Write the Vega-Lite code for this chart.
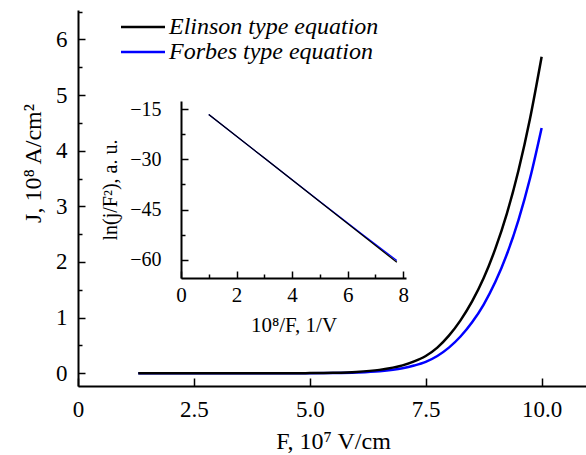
{
  "$schema": "https://vega.github.io/schema/vega-lite/v6.json",
  "width": 510,
  "height": 376,
  "autosize": {"type": "none"},
  "padding": {"left": 78, "top": 10, "right": 0, "bottom": 69},
  "background": "white",
  "config": {
    "view": {"stroke": null},
    "axis": {
      "domainColor": "black",
      "domainWidth": 2,
      "tickColor": "black",
      "tickWidth": 1.5,
      "labelColor": "black",
      "titleColor": "black",
      "labelFont": "Liberation Serif",
      "titleFont": "Liberation Serif",
      "titleFontWeight": "normal",
      "grid": false,
      "labelOverlap": false,
      "labelFlush": false
    },
    "legend": {
      "orient": "none",
      "legendX": 53,
      "legendY": 5,
      "symbolType": "M-4.4,0H4.4",
      "symbolSize": 100,
      "symbolStrokeWidth": 2.5,
      "labelFont": "Liberation Serif",
      "labelFontStyle": "italic",
      "labelFontSize": 24,
      "labelColor": "black",
      "labelOffset": 14,
      "rowPadding": 1,
      "padding": 0,
      "labelLimit": 400
    }
  },
  "datasets": {
    "main": [
      {"series": "Forbes type equation", "F": 1.3, "J": 0},
      {"series": "Forbes type equation", "F": 2, "J": 0},
      {"series": "Forbes type equation", "F": 3, "J": 0},
      {"series": "Forbes type equation", "F": 4, "J": 0.0001},
      {"series": "Forbes type equation", "F": 5, "J": 0.001},
      {"series": "Forbes type equation", "F": 5.5, "J": 0.004},
      {"series": "Forbes type equation", "F": 6, "J": 0.013},
      {"series": "Forbes type equation", "F": 6.5, "J": 0.035},
      {"series": "Forbes type equation", "F": 7, "J": 0.088},
      {"series": "Forbes type equation", "F": 7.25, "J": 0.138},
      {"series": "Forbes type equation", "F": 7.5, "J": 0.205},
      {"series": "Forbes type equation", "F": 7.75, "J": 0.31},
      {"series": "Forbes type equation", "F": 8, "J": 0.46},
      {"series": "Forbes type equation", "F": 8.25, "J": 0.66},
      {"series": "Forbes type equation", "F": 8.5, "J": 0.915},
      {"series": "Forbes type equation", "F": 8.75, "J": 1.235},
      {"series": "Forbes type equation", "F": 9, "J": 1.638},
      {"series": "Forbes type equation", "F": 9.25, "J": 2.138},
      {"series": "Forbes type equation", "F": 9.5, "J": 2.754},
      {"series": "Forbes type equation", "F": 9.75, "J": 3.505},
      {"series": "Forbes type equation", "F": 10, "J": 4.41},
      {"series": "Elinson type equation", "F": 1.3, "J": 0},
      {"series": "Elinson type equation", "F": 2, "J": 0},
      {"series": "Elinson type equation", "F": 3, "J": 0},
      {"series": "Elinson type equation", "F": 4, "J": 0.0001},
      {"series": "Elinson type equation", "F": 4.5, "J": 0.0004},
      {"series": "Elinson type equation", "F": 5, "J": 0.002},
      {"series": "Elinson type equation", "F": 5.5, "J": 0.0075},
      {"series": "Elinson type equation", "F": 6, "J": 0.023},
      {"series": "Elinson type equation", "F": 6.5, "J": 0.06},
      {"series": "Elinson type equation", "F": 7, "J": 0.14},
      {"series": "Elinson type equation", "F": 7.25, "J": 0.212},
      {"series": "Elinson type equation", "F": 7.5, "J": 0.31},
      {"series": "Elinson type equation", "F": 7.75, "J": 0.46},
      {"series": "Elinson type equation", "F": 8, "J": 0.675},
      {"series": "Elinson type equation", "F": 8.25, "J": 0.95},
      {"series": "Elinson type equation", "F": 8.5, "J": 1.29},
      {"series": "Elinson type equation", "F": 8.75, "J": 1.71},
      {"series": "Elinson type equation", "F": 9, "J": 2.235},
      {"series": "Elinson type equation", "F": 9.25, "J": 2.87},
      {"series": "Elinson type equation", "F": 9.5, "J": 3.645},
      {"series": "Elinson type equation", "F": 9.75, "J": 4.58},
      {"series": "Elinson type equation", "F": 10, "J": 5.69}
    ],
    "inset": [
      {"series": "Forbes type equation", "X": 1.0, "L": -16.6},
      {"series": "Forbes type equation", "X": 3.0, "L": -29.63},
      {"series": "Forbes type equation", "X": 5.0, "L": -42.6},
      {"series": "Forbes type equation", "X": 6.5, "L": -52.2},
      {"series": "Forbes type equation", "X": 7.77, "L": -60.2},
      {"series": "Elinson type equation", "X": 1.0, "L": -16.6},
      {"series": "Elinson type equation", "X": 3.0, "L": -29.63},
      {"series": "Elinson type equation", "X": 5.0, "L": -42.66},
      {"series": "Elinson type equation", "X": 6.5, "L": -52.43},
      {"series": "Elinson type equation", "X": 7.77, "L": -60.7}
    ]
  },
  "layer": [
    {
      "data": {"name": "main"},
      "mark": {"type": "line", "strokeWidth": 2.5, "interpolate": "monotone"},
      "encoding": {
        "x": {
          "field": "F",
          "type": "quantitative",
          "scale": {"domain": [0, 11], "nice": false, "zero": false},
          "axis": {
            "orient": "bottom",
            "values": [0, 2.5, 5, 7.5, 10],
            "labelExpr": "datum.value === 0 ? '0' : format(datum.value, '.1f')",
            "tickSize": -8,
            "labelPadding": 20,
            "labelFont": "Liberation Serif",
            "labelFontSize": 23,
            "title": "F, 10⁷ V/cm",
            "titleFont": "Liberation Serif",
            "titleFontSize": 24,
            "titlePadding": 8
          }
        },
        "y": {
          "field": "J",
          "type": "quantitative",
          "scale": {"domain": [-0.23, 6.53], "nice": false, "zero": false},
          "axis": {
            "orient": "left",
            "values": [0, 0.5, 1, 1.5, 2, 2.5, 3, 3.5, 4, 4.5, 5, 5.5, 6, 6.5],
            "labelExpr": "datum.value % 1 === 0 ? format(datum.value, 'd') : ''",
            "tickSize": {"condition": {"test": "datum.value % 1 === 0", "value": -7}, "value": -4},
            "labelPadding": 18,
            "labelFont": "Liberation Serif",
            "labelFontSize": 23,
            "title": "J, 10⁸ A/cm²",
            "titleFont": "Liberation Serif",
            "titleFontSize": 24,
            "titlePadding": 10,
            "titleY": 153
          }
        },
        "color": {
          "field": "series",
          "type": "nominal",
          "scale": {"domain": ["Elinson type equation", "Forbes type equation"], "range": ["#000000", "#0000ff"]},
          "legend": {"title": null}
        }
      }
    },
    {
      "data": {"name": "inset"},
      "mark": {"type": "line", "strokeWidth": 1.3},
      "encoding": {
        "x": {
          "field": "X",
          "type": "quantitative",
          "scale": {"domain": [0, 8.1], "range": [103, 328], "nice": false, "zero": false},
          "axis": {
            "orient": "bottom",
            "offset": -108,
            "values": [0, 1, 2, 3, 4, 5, 6, 7, 8],
            "labelExpr": "datum.value % 2 === 0 ? format(datum.value, 'd') : ''",
            "tickSize": {"condition": {"test": "datum.value % 2 === 0", "value": -7}, "value": -4},
            "labelPadding": 13,
            "labelFont": "Liberation Serif",
            "labelFontSize": 21,
            "title": "10⁸/F, 1/V",
            "titleFont": "Liberation Serif",
            "titleFontSize": 21,
            "titlePadding": 6
          }
        },
        "y": {
          "field": "L",
          "type": "quantitative",
          "scale": {"domain": [-65.4, -12.6], "range": [268, 91], "nice": false, "zero": false},
          "axis": {
            "orient": "left",
            "offset": -103,
            "values": [-15, -22.5, -30, -37.5, -45, -52.5, -60],
            "labelExpr": "datum.value % 15 === 0 ? format(datum.value, 'd') : ''",
            "tickSize": {"condition": {"test": "datum.value % 15 === 0", "value": -7}, "value": -4},
            "labelPadding": 27,
            "labelFont": "Liberation Serif",
            "labelFontSize": 20,
            "title": "ln(j/F²), a. u.",
            "titleFont": "Liberation Serif",
            "titleFontSize": 20,
            "titlePadding": 9
          }
        },
        "color": {
          "field": "series",
          "type": "nominal",
          "legend": null
        }
      }
    }
  ],
  "resolve": {
    "scale": {"x": "independent", "y": "independent"},
    "axis": {"x": "independent", "y": "independent"}
  }
}
